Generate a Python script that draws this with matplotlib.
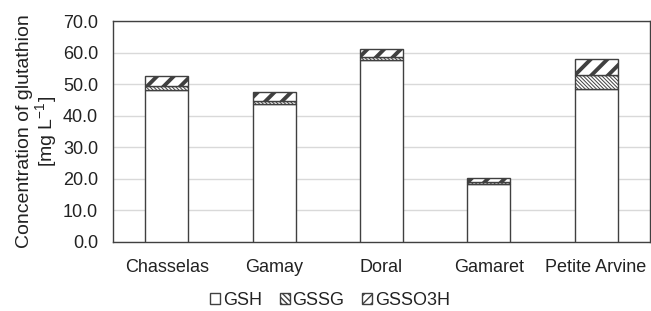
import numpy as np
import matplotlib.pyplot as plt
from matplotlib.patches import Patch

plt.rcParams['font.family'] = ['Liberation Sans', 'DejaVu Sans']

wines = ['Chasselas', 'Gamay', 'Doral', 'Gamaret', 'Petite Arvine']
gsh = [48.3, 43.6, 57.7, 18.5, 48.5]
gssg = [1.0, 1.0, 1.0, 0.5, 4.5]
gsso3h = [3.2, 2.8, 2.5, 1.4, 5.0]

edge = '#404040'
x = np.arange(len(wines))
w = 0.4

fig, ax = plt.subplots(figsize=(6.51, 3.11), dpi=100)
fig.subplots_adjust(left=0.174, right=0.998, top=0.932, bottom=0.222)

b1 = ax.bar(x, gsh, w, color='white', edgecolor=edge, linewidth=1.0, zorder=3)
b2 = ax.bar(x, gssg, w, bottom=gsh, color='white', edgecolor='#555555',
            linewidth=1.0, hatch='\\' * 9, zorder=3)
bot3 = np.array(gsh) + np.array(gssg)
b3 = ax.bar(x, gsso3h, w, bottom=bot3, color='white', edgecolor='black',
            linewidth=1.0, hatch='//', zorder=3)
for p in b3:
    if hasattr(p, 'set_hatch_linewidth'):
        p.set_hatch_linewidth(2.8)
for p in b2:
    if hasattr(p, 'set_hatch_linewidth'):
        p.set_hatch_linewidth(0.7)
# outlines back to grey
for bars in (b1, b2, b3):
    for p in bars:
        p.set_edgecolor(edge)

ax.set_ylim(0, 70)
ax.set_xlim(-0.5, len(wines) - 0.5)
ax.set_yticks(np.arange(0, 71, 10))
ax.set_yticklabels([f'{v:.1f}' for v in np.arange(0, 71, 10)], fontsize=13)
ax.set_xticks(x)
ax.set_xticklabels(wines, fontsize=13)
ax.tick_params(axis='y', length=0, pad=11, colors='#222222')
ax.tick_params(axis='x', length=0, pad=12, colors='#222222')
ax.yaxis.grid(True, color='#d9d9d9', linewidth=1.0, zorder=0)
ax.set_axisbelow(True)
for s in ax.spines.values():
    s.set_color(edge)
    s.set_linewidth(1.0)

ax.set_ylabel('Concentration of glutathion\n[mg L$^{\\mathregular{-1}}$]', fontsize=14,
              labelpad=2, linespacing=1.0, color='#222222')

handles = [Patch(facecolor='white', edgecolor=edge, label='GSH'),
           Patch(facecolor='white', edgecolor=edge, hatch='\\' * 6, label='GSSG'),
           Patch(facecolor='white', edgecolor=edge, hatch='////', label='GSSO3H')]
leg = fig.legend(handles=handles, loc='lower center', ncol=3, frameon=False,
                 fontsize=13, handlelength=0.55, handleheight=0.55, handletextpad=0.15,
                 columnspacing=1.0, bbox_to_anchor=(0.507, -0.045))
for t in leg.get_texts():
    t.set_color('#222222')

fig.savefig('out.png', dpi=100)
